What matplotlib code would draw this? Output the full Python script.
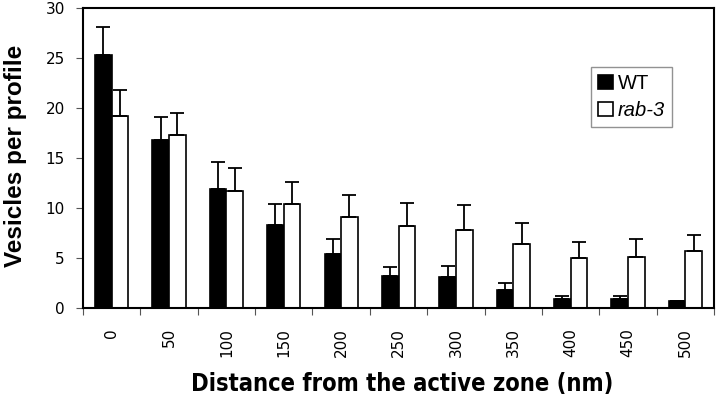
import matplotlib
matplotlib.use("Agg")
import matplotlib.pyplot as plt
import numpy as np

categories = ["0", "50", "100", "150", "200", "250", "300", "350", "400", "450", "500"]
wt_values = [25.3, 16.8, 11.9, 8.3, 5.4, 3.2, 3.1, 1.8, 0.9, 0.9, 0.7]
wt_err = [2.8, 2.3, 2.7, 2.1, 1.5, 0.9, 1.1, 0.7, 0.3, 0.3, 0.0]
rab_values = [19.2, 17.3, 11.7, 10.4, 9.1, 8.2, 7.8, 6.4, 5.0, 5.1, 5.7]
rab_err = [2.6, 2.2, 2.3, 2.2, 2.2, 2.3, 2.5, 2.1, 1.6, 1.8, 1.6]
yticks = [0, 5, 10, 15, 20, 25, 30]

plt.rcParams['font.family'] = ['Liberation Sans', 'DejaVu Sans']

fig = plt.figure(figsize=(7.2, 4.04), dpi=100)
ax = fig.add_axes([0.1153, 0.2376, 0.8764, 0.7426])

x = np.arange(len(categories))
w = 0.29
ax.bar(x - 0.145, wt_values, width=w, color='black', edgecolor='black', linewidth=1.2, label='WT', zorder=2)
ax.bar(x + 0.145, rab_values, width=w, color='white', edgecolor='black', linewidth=1.2, label='rab-3', zorder=2)
zeros = np.zeros(len(categories))
ax.errorbar(x - 0.145, wt_values, yerr=[zeros, wt_err], fmt='none', ecolor='black', elinewidth=1.3, capsize=4.7, capthick=1.3, zorder=3)
ax.errorbar(x + 0.145, rab_values, yerr=[zeros, rab_err], fmt='none', ecolor='black', elinewidth=1.3, capsize=4.7, capthick=1.3, zorder=3)

ax.set_xlim(-0.5, len(categories) - 0.5)
ax.set_ylim(0, 30)
ax.set_yticks(yticks)
ax.set_yticklabels([str(v) for v in yticks], fontsize=11, family='DejaVu Sans')
ax.set_xticks(np.arange(len(categories) + 1) - 0.5)
ax.set_xticklabels([])
ax.set_xticks(x, minor=True)
ax.set_xticklabels(categories, minor=True, rotation=90, fontsize=11, family='DejaVu Sans')
ax.tick_params(axis='x', which='minor', length=0, pad=14.5)
ax.tick_params(axis='x', which='major', length=5, width=0.8, color='#555555', direction='out')
ax.tick_params(axis='y', length=5, width=0.8, color='#555555', direction='out', pad=8)
for s in ax.spines.values():
    s.set_linewidth(1.5)

ax.set_ylabel("Vesicles per profile", fontsize=17.5, fontweight='bold', va='center')
ax.yaxis.set_label_coords(-0.107, 0.508)
ax.set_xlabel("Distance from the active zone (nm)", fontsize=17, fontweight='bold',
              family='DejaVu Sans', fontstretch='condensed', va='center')
ax.xaxis.set_label_coords(0.5055, -0.253)

leg = ax.legend(loc='upper left', bbox_to_anchor=(0.805, 0.803), fontsize=14.5, frameon=True,
                fancybox=False, edgecolor='#777777', handlelength=0.75, handleheight=0.7,
                handletextpad=0.25, borderpad=0.35, labelspacing=0.4, borderaxespad=0)
leg.get_frame().set_linewidth(1.0)
leg.get_texts()[1].set_fontstyle('italic')

fig.savefig("out.png", dpi=100)
